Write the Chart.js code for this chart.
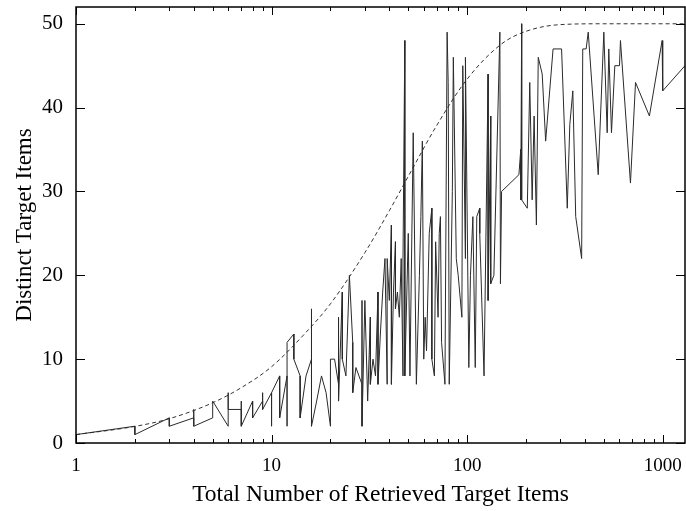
<!DOCTYPE html>
<html>
<head>
<meta charset="utf-8">
<script src="https://cdn.jsdelivr.net/npm/chart.js@4/dist/chart.umd.min.js"></script>
<style>
  html, body { margin: 0; padding: 0; background: #fff; }
  canvas { display: block; }
</style>
</head>
<body>
<canvas id="chart" width="686" height="511"></canvas>
<script>
// Observed runs: total retrieved target items vs distinct target items
const retrievedTotals = [
  1, 2, 2, 3, 3, 4, 4, 4, 5, 5, 6, 6, 6, 7, 7, 7, 8, 8, 9, 9, 9, 10, 10, 10,
  11, 11, 12, 12, 12, 13, 13, 14, 14, 15, 16, 16, 16, 17, 18, 19, 20, 20, 21, 22, 22, 22,
  23, 23, 24, 25, 26, 26, 27, 29, 29, 29, 30, 31, 32, 32, 33, 34, 35, 35, 36, 37,
  38, 39, 39, 40, 41, 41, 42, 43, 43, 44, 45, 46, 47, 47, 48, 48, 50, 51, 53, 55,
  57, 58, 59, 60, 61, 62, 64, 66, 66, 68, 69, 71, 72, 73, 74, 77, 79, 80, 81, 84,
  85, 88, 90, 94, 95, 98, 98, 102, 104, 107, 110, 112, 116, 116, 122, 128, 128, 132, 132, 137,
  147, 148, 150, 184, 188, 188, 190, 190, 203, 209, 215, 220, 226, 231, 242, 252, 275, 304, 325, 335,
  347, 359, 385, 390, 406, 416, 468, 500, 520, 530, 547, 569, 601, 608, 684, 726, 855, 993, 1000, 1300
];
const distinctItems = [
  1, 2, 1, 3, 2, 3, 4, 2, 3, 5, 2, 6, 4, 4, 5, 2, 5, 3, 5, 6, 4, 6, 2, 6,
  8, 3, 8, 2, 12, 13, 10, 8, 3, 8, 10, 16, 2, 5, 8, 6, 2, 10, 10, 7, 15, 5,
  18, 10, 8, 20, 12, 6, 9, 7, 17, 2, 17, 5, 15, 7, 10, 8, 18, 7, 13, 18,
  22, 7, 22, 17, 26, 7, 18, 24, 16, 18, 15, 22, 8, 22, 48, 8, 25, 8, 37, 7,
  20, 27, 36, 10, 15, 11, 25, 28, 10, 8, 24, 15, 25, 27, 12, 7, 49, 43, 7, 30,
  46, 22, 20, 15, 45, 22, 46, 9, 20, 27, 9, 27, 28, 25, 8, 44, 17, 39, 19, 20,
  49, 19, 30, 32, 35, 29, 50, 29, 28, 43, 29, 39, 26, 46, 44, 36, 47, 47, 28, 38,
  42, 27, 22, 47, 47, 49, 32, 49, 37, 47, 37, 45, 45, 48, 31, 43, 39, 48, 42, 45
];

// Expected distinct items (dashed curve)
const expectedTotals = [1, 2, 3, 5, 7, 10, 15, 20, 30, 40, 50, 70, 100, 150, 200, 300, 500, 1300];
const expectedItems = [1, 1.98, 2.9, 4.8, 6.6, 9.1, 13.2, 16.6, 22.7, 27.7, 31.8, 37.9, 43.4, 47.6, 49.1, 49.9, 50, 50];

const xTickValues = [1, 10, 100, 1000];
const yTickValues = [0, 10, 20, 30, 40, 50];

const serif = "'Liberation Serif', 'DejaVu Serif', serif";

// Draws the closed frame and gnuplot-style inward ticks on all four sides
const frameTicks = {
  id: 'frameTicks',
  afterDatasetsDraw(chart) {
    const { ctx, chartArea: a, scales: { x, y } } = chart;
    ctx.save();
    ctx.strokeStyle = '#000';
    ctx.lineWidth = 1;
    ctx.beginPath();
    yTickValues.forEach(v => {
      const py = Math.round(y.getPixelForValue(v)) + 0.5;
      ctx.moveTo(a.left, py); ctx.lineTo(a.left + 9, py);
      ctx.moveTo(a.right, py); ctx.lineTo(a.right - 9, py);
    });
    for (let d = 1; d <= 1000; d *= 10) {
      for (let k = 1; k <= 9; k++) {
        const v = d * k;
        if (v > x.max) break;
        const px = Math.round(x.getPixelForValue(v)) + 0.5;
        const len = k === 1 ? 8 : 4;
        ctx.moveTo(px, a.bottom); ctx.lineTo(px, a.bottom - len);
        ctx.moveTo(px, a.top); ctx.lineTo(px, a.top + len);
      }
    }
    ctx.stroke();
    ctx.lineWidth = 1.5;
    ctx.strokeRect(a.left, a.top, a.right - a.left, a.bottom - a.top);
    ctx.restore();
  }
};

new Chart(document.getElementById('chart'), {
  type: 'line',
  data: {
    datasets: [
      {
        label: 'Observed',
        data: retrievedTotals.map((t, i) => ({ x: t, y: distinctItems[i] })),
        borderColor: '#2a2a2a',
        borderWidth: 1,
        pointRadius: 0,
        tension: 0
      },
      {
        label: 'Expected',
        data: expectedTotals.map((t, i) => ({ x: t, y: expectedItems[i] })),
        borderColor: '#333',
        borderWidth: 1,
        borderDash: [4, 3],
        pointRadius: 0,
        cubicInterpolationMode: 'monotone'
      }
    ]
  },
  options: {
    responsive: false,
    animation: false,
    layout: { padding: { left: 0, right: 1, top: 7, bottom: 0 } },
    plugins: {
      legend: { display: false },
      tooltip: { enabled: false }
    },
    scales: {
      x: {
        type: 'logarithmic',
        min: 1,
        max: 1300,
        afterBuildTicks: (scale) => { scale.ticks = xTickValues.map(v => ({ value: v })); },
        afterFit: (scale) => {
          scale.height = 68;
          scale.paddingLeft = 0;
          scale.paddingRight = 0;
        },
        grid: { display: false },
        border: { display: false },
        ticks: {
          autoSkip: false,
          maxRotation: 0,
          padding: 4,
          color: '#000',
          font: { family: serif, size: 19 },
          callback: (v) => String(v)
        },
        title: {
          display: true,
          text: 'Total Number of Retrieved Target Items',
          color: '#000',
          font: { family: serif, size: 23.5 },
          padding: { top: 0, bottom: 2 }
        }
      },
      y: {
        min: 0,
        max: 52,
        afterBuildTicks: (scale) => { scale.ticks = yTickValues.map(v => ({ value: v })); },
        afterFit: (scale) => {
          scale.width = 76;
          scale.paddingTop = 0;
          scale.paddingBottom = 0;
        },
        grid: { display: false },
        border: { display: false },
        ticks: {
          padding: 5,
          color: '#000',
          font: { family: serif, size: 21 }
        },
        title: {
          display: true,
          text: 'Distinct Target Items',
          color: '#000',
          font: { family: serif, size: 23 },
          padding: { top: 11, bottom: 0 }
        }
      }
    }
  },
  plugins: [frameTicks]
});
</script>
</body>
</html>
